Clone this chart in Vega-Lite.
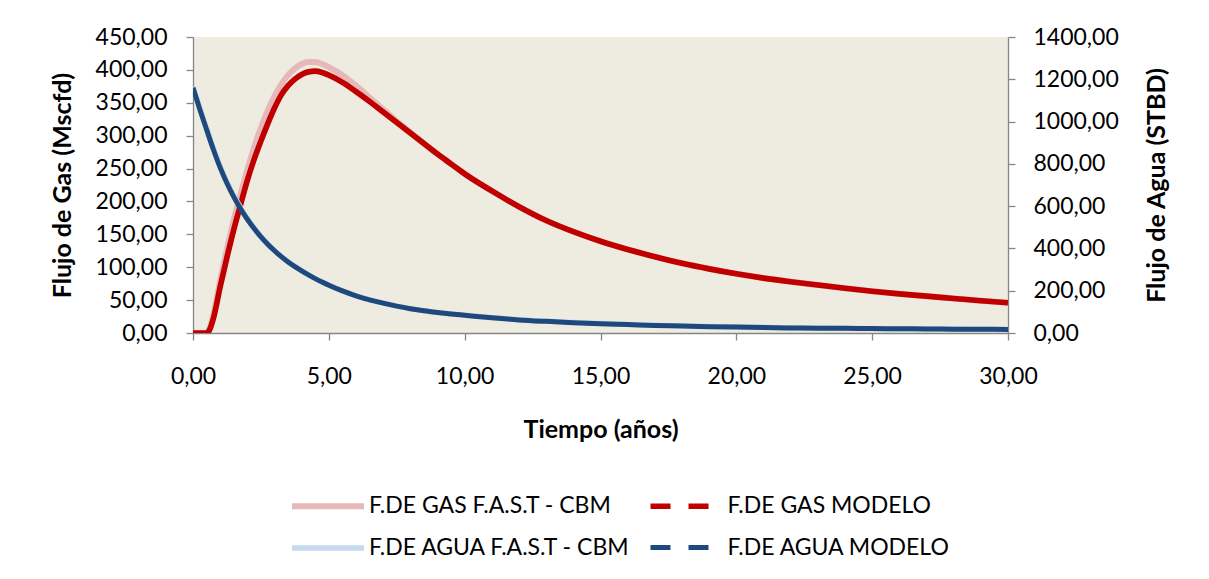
{
  "$schema": "https://vega.github.io/schema/vega-lite/v6.json",
  "width": 815,
  "height": 296,
  "autosize": {"type": "none"},
  "padding": {"left": 193, "top": 37, "right": 201, "bottom": 246},
  "background": "white",
  "config": {
    "locale": {"number": {"decimal": ",", "thousands": ".", "grouping": [3], "currency": ["", ""]}},
    "view": {"fill": "#EEECE1", "stroke": null},
    "font": "Lato",
    "axis": {
      "domainColor": "#868686", "tickColor": "#868686", "grid": false,
      "domainWidth": 1.3, "tickWidth": 1.3, "tickSize": 7, "labelFlush": false,
      "labelFont": "Lato", "labelFontSize": 23, "labelColor": "black",
      "titleFont": "Lato", "titleFontSize": 25, "titleFontWeight": "bold", "titleColor": "black"
    }
  },
  "datasets": {
    "gas": [
      {"t": 0, "serie": "F.DE GAS F.A.S.T - CBM", "v": 0},
      {"t": 0.25, "serie": "F.DE GAS F.A.S.T - CBM", "v": 0},
      {"t": 0.5, "serie": "F.DE GAS F.A.S.T - CBM", "v": 0},
      {"t": 0.6, "serie": "F.DE GAS F.A.S.T - CBM", "v": 6},
      {"t": 0.75, "serie": "F.DE GAS F.A.S.T - CBM", "v": 28},
      {"t": 1, "serie": "F.DE GAS F.A.S.T - CBM", "v": 80},
      {"t": 1.25, "serie": "F.DE GAS F.A.S.T - CBM", "v": 128},
      {"t": 1.5, "serie": "F.DE GAS F.A.S.T - CBM", "v": 172},
      {"t": 1.75, "serie": "F.DE GAS F.A.S.T - CBM", "v": 211},
      {"t": 2, "serie": "F.DE GAS F.A.S.T - CBM", "v": 248},
      {"t": 2.25, "serie": "F.DE GAS F.A.S.T - CBM", "v": 282},
      {"t": 2.5, "serie": "F.DE GAS F.A.S.T - CBM", "v": 312},
      {"t": 2.75, "serie": "F.DE GAS F.A.S.T - CBM", "v": 338},
      {"t": 3, "serie": "F.DE GAS F.A.S.T - CBM", "v": 360},
      {"t": 3.25, "serie": "F.DE GAS F.A.S.T - CBM", "v": 378},
      {"t": 3.5, "serie": "F.DE GAS F.A.S.T - CBM", "v": 392},
      {"t": 3.75, "serie": "F.DE GAS F.A.S.T - CBM", "v": 402},
      {"t": 4, "serie": "F.DE GAS F.A.S.T - CBM", "v": 409},
      {"t": 4.25, "serie": "F.DE GAS F.A.S.T - CBM", "v": 412},
      {"t": 4.5, "serie": "F.DE GAS F.A.S.T - CBM", "v": 412},
      {"t": 4.75, "serie": "F.DE GAS F.A.S.T - CBM", "v": 409},
      {"t": 5, "serie": "F.DE GAS F.A.S.T - CBM", "v": 404},
      {"t": 5.5, "serie": "F.DE GAS F.A.S.T - CBM", "v": 392},
      {"t": 6, "serie": "F.DE GAS F.A.S.T - CBM", "v": 376},
      {"t": 6.5, "serie": "F.DE GAS F.A.S.T - CBM", "v": 358},
      {"t": 7, "serie": "F.DE GAS F.A.S.T - CBM", "v": 340},
      {"t": 7.5, "serie": "F.DE GAS F.A.S.T - CBM", "v": 322},
      {"t": 8, "serie": "F.DE GAS F.A.S.T - CBM", "v": 305},
      {"t": 8.5, "serie": "F.DE GAS F.A.S.T - CBM", "v": 288},
      {"t": 9, "serie": "F.DE GAS F.A.S.T - CBM", "v": 272},
      {"t": 9.5, "serie": "F.DE GAS F.A.S.T - CBM", "v": 257},
      {"t": 10, "serie": "F.DE GAS F.A.S.T - CBM", "v": 242},
      {"t": 11, "serie": "F.DE GAS F.A.S.T - CBM", "v": 216},
      {"t": 12, "serie": "F.DE GAS F.A.S.T - CBM", "v": 192},
      {"t": 13, "serie": "F.DE GAS F.A.S.T - CBM", "v": 171},
      {"t": 14, "serie": "F.DE GAS F.A.S.T - CBM", "v": 154},
      {"t": 15, "serie": "F.DE GAS F.A.S.T - CBM", "v": 139.5},
      {"t": 16, "serie": "F.DE GAS F.A.S.T - CBM", "v": 127},
      {"t": 17, "serie": "F.DE GAS F.A.S.T - CBM", "v": 116},
      {"t": 18, "serie": "F.DE GAS F.A.S.T - CBM", "v": 106},
      {"t": 19, "serie": "F.DE GAS F.A.S.T - CBM", "v": 97.5},
      {"t": 20, "serie": "F.DE GAS F.A.S.T - CBM", "v": 90},
      {"t": 21, "serie": "F.DE GAS F.A.S.T - CBM", "v": 83.5},
      {"t": 22, "serie": "F.DE GAS F.A.S.T - CBM", "v": 78},
      {"t": 23, "serie": "F.DE GAS F.A.S.T - CBM", "v": 73},
      {"t": 24, "serie": "F.DE GAS F.A.S.T - CBM", "v": 68},
      {"t": 25, "serie": "F.DE GAS F.A.S.T - CBM", "v": 63.5},
      {"t": 26, "serie": "F.DE GAS F.A.S.T - CBM", "v": 59.5},
      {"t": 27, "serie": "F.DE GAS F.A.S.T - CBM", "v": 56},
      {"t": 28, "serie": "F.DE GAS F.A.S.T - CBM", "v": 52.5},
      {"t": 29, "serie": "F.DE GAS F.A.S.T - CBM", "v": 49},
      {"t": 30, "serie": "F.DE GAS F.A.S.T - CBM", "v": 46},
      {"t": 0, "serie": "F.DE GAS MODELO", "v": 0},
      {"t": 0.25, "serie": "F.DE GAS MODELO", "v": 0},
      {"t": 0.5, "serie": "F.DE GAS MODELO", "v": 0},
      {"t": 0.6, "serie": "F.DE GAS MODELO", "v": 4},
      {"t": 0.75, "serie": "F.DE GAS MODELO", "v": 22},
      {"t": 1, "serie": "F.DE GAS MODELO", "v": 70},
      {"t": 1.25, "serie": "F.DE GAS MODELO", "v": 115},
      {"t": 1.5, "serie": "F.DE GAS MODELO", "v": 157},
      {"t": 1.75, "serie": "F.DE GAS MODELO", "v": 195},
      {"t": 2, "serie": "F.DE GAS MODELO", "v": 232},
      {"t": 2.25, "serie": "F.DE GAS MODELO", "v": 264},
      {"t": 2.5, "serie": "F.DE GAS MODELO", "v": 292},
      {"t": 2.75, "serie": "F.DE GAS MODELO", "v": 318},
      {"t": 3, "serie": "F.DE GAS MODELO", "v": 342},
      {"t": 3.25, "serie": "F.DE GAS MODELO", "v": 362},
      {"t": 3.5, "serie": "F.DE GAS MODELO", "v": 376},
      {"t": 3.75, "serie": "F.DE GAS MODELO", "v": 386},
      {"t": 4, "serie": "F.DE GAS MODELO", "v": 393},
      {"t": 4.25, "serie": "F.DE GAS MODELO", "v": 397},
      {"t": 4.5, "serie": "F.DE GAS MODELO", "v": 398},
      {"t": 4.75, "serie": "F.DE GAS MODELO", "v": 396},
      {"t": 5, "serie": "F.DE GAS MODELO", "v": 392},
      {"t": 5.5, "serie": "F.DE GAS MODELO", "v": 381},
      {"t": 6, "serie": "F.DE GAS MODELO", "v": 367},
      {"t": 6.5, "serie": "F.DE GAS MODELO", "v": 352},
      {"t": 7, "serie": "F.DE GAS MODELO", "v": 336},
      {"t": 7.5, "serie": "F.DE GAS MODELO", "v": 320},
      {"t": 8, "serie": "F.DE GAS MODELO", "v": 304},
      {"t": 8.5, "serie": "F.DE GAS MODELO", "v": 288},
      {"t": 9, "serie": "F.DE GAS MODELO", "v": 272},
      {"t": 9.5, "serie": "F.DE GAS MODELO", "v": 257},
      {"t": 10, "serie": "F.DE GAS MODELO", "v": 242},
      {"t": 11, "serie": "F.DE GAS MODELO", "v": 216},
      {"t": 12, "serie": "F.DE GAS MODELO", "v": 192},
      {"t": 13, "serie": "F.DE GAS MODELO", "v": 171},
      {"t": 14, "serie": "F.DE GAS MODELO", "v": 154},
      {"t": 15, "serie": "F.DE GAS MODELO", "v": 139.5},
      {"t": 16, "serie": "F.DE GAS MODELO", "v": 127},
      {"t": 17, "serie": "F.DE GAS MODELO", "v": 116},
      {"t": 18, "serie": "F.DE GAS MODELO", "v": 106},
      {"t": 19, "serie": "F.DE GAS MODELO", "v": 97.5},
      {"t": 20, "serie": "F.DE GAS MODELO", "v": 90},
      {"t": 21, "serie": "F.DE GAS MODELO", "v": 83.5},
      {"t": 22, "serie": "F.DE GAS MODELO", "v": 78},
      {"t": 23, "serie": "F.DE GAS MODELO", "v": 73},
      {"t": 24, "serie": "F.DE GAS MODELO", "v": 68},
      {"t": 25, "serie": "F.DE GAS MODELO", "v": 63.5},
      {"t": 26, "serie": "F.DE GAS MODELO", "v": 59.5},
      {"t": 27, "serie": "F.DE GAS MODELO", "v": 56},
      {"t": 28, "serie": "F.DE GAS MODELO", "v": 52.5},
      {"t": 29, "serie": "F.DE GAS MODELO", "v": 49},
      {"t": 30, "serie": "F.DE GAS MODELO", "v": 46}
    ],
    "agua": [
      {"t": 0, "serie": "F.DE AGUA F.A.S.T - CBM", "v": 1165},
      {"t": 0.25, "serie": "F.DE AGUA F.A.S.T - CBM", "v": 1066},
      {"t": 0.5, "serie": "F.DE AGUA F.A.S.T - CBM", "v": 970},
      {"t": 0.75, "serie": "F.DE AGUA F.A.S.T - CBM", "v": 876},
      {"t": 1, "serie": "F.DE AGUA F.A.S.T - CBM", "v": 790},
      {"t": 1.25, "serie": "F.DE AGUA F.A.S.T - CBM", "v": 716},
      {"t": 1.5, "serie": "F.DE AGUA F.A.S.T - CBM", "v": 651},
      {"t": 1.75, "serie": "F.DE AGUA F.A.S.T - CBM", "v": 594},
      {"t": 2, "serie": "F.DE AGUA F.A.S.T - CBM", "v": 543},
      {"t": 2.25, "serie": "F.DE AGUA F.A.S.T - CBM", "v": 498},
      {"t": 2.5, "serie": "F.DE AGUA F.A.S.T - CBM", "v": 458},
      {"t": 2.75, "serie": "F.DE AGUA F.A.S.T - CBM", "v": 423},
      {"t": 3, "serie": "F.DE AGUA F.A.S.T - CBM", "v": 391},
      {"t": 3.25, "serie": "F.DE AGUA F.A.S.T - CBM", "v": 363},
      {"t": 3.5, "serie": "F.DE AGUA F.A.S.T - CBM", "v": 338},
      {"t": 3.75, "serie": "F.DE AGUA F.A.S.T - CBM", "v": 315},
      {"t": 4, "serie": "F.DE AGUA F.A.S.T - CBM", "v": 295},
      {"t": 4.25, "serie": "F.DE AGUA F.A.S.T - CBM", "v": 276},
      {"t": 4.5, "serie": "F.DE AGUA F.A.S.T - CBM", "v": 258},
      {"t": 4.75, "serie": "F.DE AGUA F.A.S.T - CBM", "v": 242},
      {"t": 5, "serie": "F.DE AGUA F.A.S.T - CBM", "v": 227},
      {"t": 5.5, "serie": "F.DE AGUA F.A.S.T - CBM", "v": 199},
      {"t": 6, "serie": "F.DE AGUA F.A.S.T - CBM", "v": 176},
      {"t": 6.5, "serie": "F.DE AGUA F.A.S.T - CBM", "v": 157},
      {"t": 7, "serie": "F.DE AGUA F.A.S.T - CBM", "v": 141},
      {"t": 7.5, "serie": "F.DE AGUA F.A.S.T - CBM", "v": 127},
      {"t": 8, "serie": "F.DE AGUA F.A.S.T - CBM", "v": 115},
      {"t": 8.5, "serie": "F.DE AGUA F.A.S.T - CBM", "v": 105},
      {"t": 9, "serie": "F.DE AGUA F.A.S.T - CBM", "v": 97},
      {"t": 9.5, "serie": "F.DE AGUA F.A.S.T - CBM", "v": 90},
      {"t": 10, "serie": "F.DE AGUA F.A.S.T - CBM", "v": 84},
      {"t": 11, "serie": "F.DE AGUA F.A.S.T - CBM", "v": 73},
      {"t": 12, "serie": "F.DE AGUA F.A.S.T - CBM", "v": 63},
      {"t": 13, "serie": "F.DE AGUA F.A.S.T - CBM", "v": 56},
      {"t": 14, "serie": "F.DE AGUA F.A.S.T - CBM", "v": 50},
      {"t": 15, "serie": "F.DE AGUA F.A.S.T - CBM", "v": 45},
      {"t": 16, "serie": "F.DE AGUA F.A.S.T - CBM", "v": 41},
      {"t": 17, "serie": "F.DE AGUA F.A.S.T - CBM", "v": 37},
      {"t": 18, "serie": "F.DE AGUA F.A.S.T - CBM", "v": 34},
      {"t": 19, "serie": "F.DE AGUA F.A.S.T - CBM", "v": 31},
      {"t": 20, "serie": "F.DE AGUA F.A.S.T - CBM", "v": 29},
      {"t": 21, "serie": "F.DE AGUA F.A.S.T - CBM", "v": 27},
      {"t": 22, "serie": "F.DE AGUA F.A.S.T - CBM", "v": 25},
      {"t": 23, "serie": "F.DE AGUA F.A.S.T - CBM", "v": 23.5},
      {"t": 24, "serie": "F.DE AGUA F.A.S.T - CBM", "v": 22},
      {"t": 25, "serie": "F.DE AGUA F.A.S.T - CBM", "v": 21},
      {"t": 26, "serie": "F.DE AGUA F.A.S.T - CBM", "v": 20},
      {"t": 27, "serie": "F.DE AGUA F.A.S.T - CBM", "v": 19},
      {"t": 28, "serie": "F.DE AGUA F.A.S.T - CBM", "v": 18},
      {"t": 29, "serie": "F.DE AGUA F.A.S.T - CBM", "v": 17.5},
      {"t": 30, "serie": "F.DE AGUA F.A.S.T - CBM", "v": 17},
      {"t": 0, "serie": "F.DE AGUA MODELO", "v": 1160},
      {"t": 0.25, "serie": "F.DE AGUA MODELO", "v": 1058},
      {"t": 0.5, "serie": "F.DE AGUA MODELO", "v": 962},
      {"t": 0.75, "serie": "F.DE AGUA MODELO", "v": 868},
      {"t": 1, "serie": "F.DE AGUA MODELO", "v": 782},
      {"t": 1.25, "serie": "F.DE AGUA MODELO", "v": 708},
      {"t": 1.5, "serie": "F.DE AGUA MODELO", "v": 644},
      {"t": 1.75, "serie": "F.DE AGUA MODELO", "v": 588},
      {"t": 2, "serie": "F.DE AGUA MODELO", "v": 538},
      {"t": 2.25, "serie": "F.DE AGUA MODELO", "v": 494},
      {"t": 2.5, "serie": "F.DE AGUA MODELO", "v": 455},
      {"t": 2.75, "serie": "F.DE AGUA MODELO", "v": 420},
      {"t": 3, "serie": "F.DE AGUA MODELO", "v": 389},
      {"t": 3.25, "serie": "F.DE AGUA MODELO", "v": 361},
      {"t": 3.5, "serie": "F.DE AGUA MODELO", "v": 336},
      {"t": 3.75, "serie": "F.DE AGUA MODELO", "v": 314},
      {"t": 4, "serie": "F.DE AGUA MODELO", "v": 294},
      {"t": 4.25, "serie": "F.DE AGUA MODELO", "v": 275},
      {"t": 4.5, "serie": "F.DE AGUA MODELO", "v": 257},
      {"t": 4.75, "serie": "F.DE AGUA MODELO", "v": 241},
      {"t": 5, "serie": "F.DE AGUA MODELO", "v": 226},
      {"t": 5.5, "serie": "F.DE AGUA MODELO", "v": 199},
      {"t": 6, "serie": "F.DE AGUA MODELO", "v": 176},
      {"t": 6.5, "serie": "F.DE AGUA MODELO", "v": 157},
      {"t": 7, "serie": "F.DE AGUA MODELO", "v": 141},
      {"t": 7.5, "serie": "F.DE AGUA MODELO", "v": 127},
      {"t": 8, "serie": "F.DE AGUA MODELO", "v": 115},
      {"t": 8.5, "serie": "F.DE AGUA MODELO", "v": 105},
      {"t": 9, "serie": "F.DE AGUA MODELO", "v": 97},
      {"t": 9.5, "serie": "F.DE AGUA MODELO", "v": 90},
      {"t": 10, "serie": "F.DE AGUA MODELO", "v": 84},
      {"t": 11, "serie": "F.DE AGUA MODELO", "v": 72},
      {"t": 12, "serie": "F.DE AGUA MODELO", "v": 62},
      {"t": 13, "serie": "F.DE AGUA MODELO", "v": 55},
      {"t": 14, "serie": "F.DE AGUA MODELO", "v": 49},
      {"t": 15, "serie": "F.DE AGUA MODELO", "v": 44},
      {"t": 16, "serie": "F.DE AGUA MODELO", "v": 40},
      {"t": 17, "serie": "F.DE AGUA MODELO", "v": 36},
      {"t": 18, "serie": "F.DE AGUA MODELO", "v": 33},
      {"t": 19, "serie": "F.DE AGUA MODELO", "v": 30},
      {"t": 20, "serie": "F.DE AGUA MODELO", "v": 28},
      {"t": 21, "serie": "F.DE AGUA MODELO", "v": 26},
      {"t": 22, "serie": "F.DE AGUA MODELO", "v": 24},
      {"t": 23, "serie": "F.DE AGUA MODELO", "v": 23},
      {"t": 24, "serie": "F.DE AGUA MODELO", "v": 22},
      {"t": 25, "serie": "F.DE AGUA MODELO", "v": 21},
      {"t": 26, "serie": "F.DE AGUA MODELO", "v": 20},
      {"t": 27, "serie": "F.DE AGUA MODELO", "v": 19},
      {"t": 28, "serie": "F.DE AGUA MODELO", "v": 18},
      {"t": 29, "serie": "F.DE AGUA MODELO", "v": 17.5},
      {"t": 30, "serie": "F.DE AGUA MODELO", "v": 17}
    ]
  },
  "layer": [
    {
      "data": {"name": "gas"},
      "mark": {"type": "line", "interpolate": "monotone", "clip": true},
      "encoding": {
        "x": {
          "field": "t", "type": "quantitative",
          "scale": {"domain": [0, 30], "nice": false},
          "axis": {"values": [0, 5, 10, 15, 20, 25, 30], "format": ".2f", "title": "Tiempo (años)", "labelPadding": 25, "titlePadding": 29}
        },
        "y": {
          "field": "v", "type": "quantitative",
          "scale": {"domain": [0, 450], "nice": false},
          "axis": {"values": [0, 50, 100, 150, 200, 250, 300, 350, 400, 450], "format": ".2f", "title": "Flujo de Gas (Mscfd)", "labelPadding": 19, "titlePadding": 20}
        },
        "color": {
          "field": "serie", "type": "nominal",
          "scale": {
            "domain": ["F.DE GAS F.A.S.T - CBM", "F.DE GAS MODELO", "F.DE AGUA F.A.S.T - CBM", "F.DE AGUA MODELO"],
            "range": ["#E6B9B8", "#C00000", "#C6D9F1", "#1F497D"]
          },
          "legend": {
            "orient": "none", "legendX": 110.5, "legendY": 444.5,
            "direction": "horizontal", "columns": 2, "title": null,
            "symbolType": "M-1.674,0H1.674", "symbolSize": 1849, "symbolStrokeWidth": 5.5,
            "labelFont": "Lato", "labelFontSize": 23, "labelColor": "black",
            "labelLimit": 500, "labelOffset": 16.5, "rowPadding": 5, "columnPadding": 7.5,
            "encode": {"symbols": {"update": {
              "fill": {"value": "transparent"},
              "strokeDash": {"signal": "indexof(datum.value, 'MODELO') >= 0 ? [20, 18] : [1, 0]"}
            }}}
          }
        },
        "strokeWidth": {
          "field": "serie", "type": "nominal",
          "scale": {"domain": ["F.DE GAS F.A.S.T - CBM", "F.DE GAS MODELO", "F.DE AGUA F.A.S.T - CBM", "F.DE AGUA MODELO"], "range": [6, 5, 6, 5]},
          "legend": null
        }
      }
    },
    {
      "data": {"name": "agua"},
      "mark": {"type": "line", "interpolate": "monotone", "clip": true},
      "encoding": {
        "x": {"field": "t", "type": "quantitative"},
        "y": {
          "field": "v", "type": "quantitative",
          "scale": {"domain": [0, 1400], "nice": false},
          "axis": {"orient": "right", "values": [0, 200, 400, 600, 800, 1000, 1200, 1400], "format": ".2f", "title": "Flujo de Agua (STBD)", "labelPadding": 18, "titlePadding": 26, "titleAngle": 270, "titleBaseline": "top"}
        },
        "color": {"field": "serie", "type": "nominal"},
        "strokeWidth": {"field": "serie", "type": "nominal", "legend": null}
      }
    }
  ],
  "resolve": {"scale": {"y": "independent"}}
}
